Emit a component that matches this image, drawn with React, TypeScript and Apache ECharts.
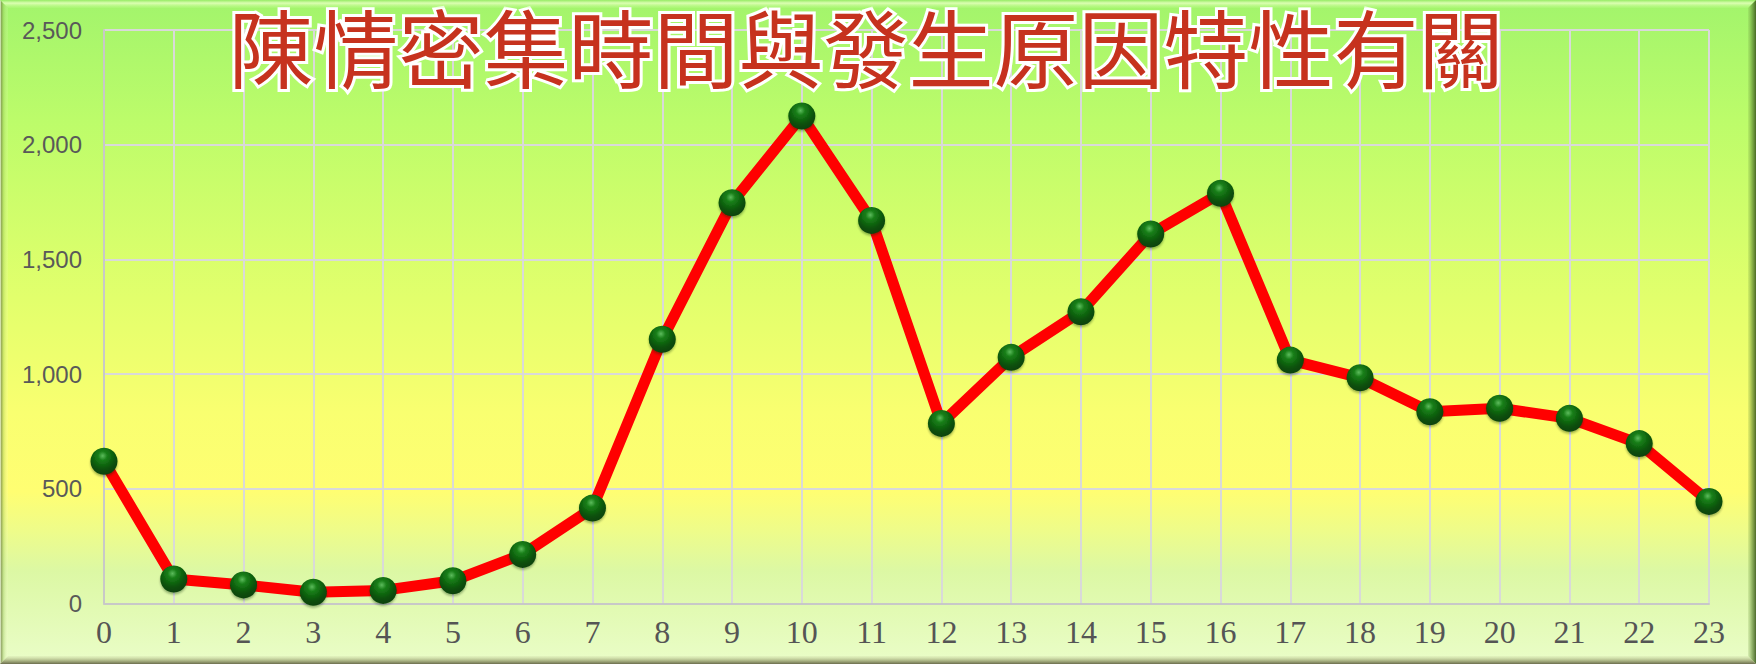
import React, { useEffect, useRef } from "react";
import * as echarts from "echarts";

const hours: string[] = ["0","1","2","3","4","5","6","7","8","9","10","11","12","13","14","15","16","17","18","19","20","21","22","23"];
const counts: number[] = [620, 107, 81, 49, 57, 99, 214, 416, 1152, 1747, 2125, 1670, 785, 1073, 1272, 1611, 1788, 1061, 984, 836, 851, 807, 697, 445];
const titleText = "陳情密集時間與發生原因特性有關";
const yMax = 2500;
const yStep = 500;

const W = 1756;
const H = 664;
const B = 8;

export default function App() {
  const ref = useRef<HTMLDivElement>(null);
  useEffect(() => {
    if (!ref.current) return;
    const chart = echarts.init(ref.current, null, { renderer: "svg" });
    const bg = new echarts.graphic.LinearGradient(0, 0, 0, 1, [
      { offset: 0, color: "#a2f46c" },
      { offset: 0.18, color: "#bcfc6a" },
      { offset: 0.45, color: "#e2ff6c" },
      { offset: 0.62, color: "#f9ff70" },
      { offset: 0.74, color: "#fffe72" },
      { offset: 0.8, color: "#eefc8a" },
      { offset: 0.86, color: "#dcf8a4" },
      { offset: 1, color: "#eafdc8" },
    ]);
    const sphere = {
      type: "radial",
      x: 0.45,
      y: 0.3,
      r: 0.75,
      colorStops: [
        { offset: 0, color: "#5cbc5c" },
        { offset: 0.22, color: "#1a801a" },
        { offset: 0.65, color: "#075207" },
        { offset: 1, color: "#0b3d0b" },
      ],
    };
    const titleFont = "normal 85px 'Noto Sans CJK TC'";
    const titleX = 866;
    const titleY = 44;
    chart.setOption({
      animation: false,
      backgroundColor: bg,
      grid: { left: 104, right: 47, top: 30, bottom: 60.5, containLabel: false, outerBoundsMode: "none" },
      xAxis: {
        type: "category",
        data: hours,
        boundaryGap: false,
        axisLine: { show: true, lineStyle: { color: "#c8c8c8", width: 2 } },
        axisTick: { show: false },
        splitLine: { show: true, lineStyle: { color: "#d9d9d9", width: 2 } },
        axisLabel: {
          color: "#555555",
          fontFamily: "Liberation Serif",
          fontSize: 32,
          margin: 12,
          interval: 0,
        },
      },
      yAxis: {
        type: "value",
        min: 0,
        max: yMax,
        interval: yStep,
        axisLine: { show: true, lineStyle: { color: "#c8c8c8", width: 2 } },
        axisTick: { show: false },
        splitLine: { show: true, lineStyle: { color: "#d9d9d9", width: 2 } },
        axisLabel: {
          color: "#595959",
          fontFamily: "Liberation Sans",
          fontSize: 24,
          margin: 22,
          formatter: (v: number) => v.toLocaleString("en-US"),
        },
      },
      series: [
        {
          type: "line",
          data: counts,
          symbol: "circle",
          symbolSize: 27,
          lineStyle: { color: "#ff0000", width: 11 },
          itemStyle: {
            color: sphere,
            shadowColor: "rgba(0,40,0,0.35)",
            shadowOffsetY: 2,
            shadowBlur: 2,
          },
          z: 3,
        },
      ],
      graphic: [
        {
          type: "text",
          x: titleX,
          y: titleY,
          z: 10,
          silent: true,
          style: {
            text: titleText,
            font: titleFont,
            fill: "#ffffff",
            stroke: "#ffffff",
            lineWidth: 6,
            align: "center",
            verticalAlign: "middle",
            shadowColor: "rgba(230,95,75,0.9)",
            shadowOffsetX: 3,
            shadowOffsetY: 4,
            shadowBlur: 3,
          },
        },
        {
          type: "text",
          x: titleX,
          y: titleY,
          z: 11,
          style: {
            text: titleText,
            font: titleFont,
            fill: "#c6321e",
            align: "center",
            verticalAlign: "middle",
          },
        },
        {
          type: "polygon",
          z: 20,
          shape: { points: [[0, 0], [W, 0], [W - B, B], [B, B]] },
          style: {
            fill: new echarts.graphic.LinearGradient(0, 0, 0, 1, [
              { offset: 0, color: "rgba(150,235,100,1)" },
              { offset: 0.4, color: "rgba(225,255,185,0.9)" },
              { offset: 1, color: "rgba(190,250,140,0.2)" },
            ]),
          },
        },
        {
          type: "polygon",
          z: 20,
          shape: { points: [[0, 0], [B, B], [B, H - B], [0, H]] },
          style: {
            fill: new echarts.graphic.LinearGradient(0, 0, 1, 0, [
              { offset: 0, color: "rgba(245,250,235,0.9)" },
              { offset: 0.2, color: "rgba(120,140,70,0.7)" },
              { offset: 0.45, color: "rgba(150,190,90,0.35)" },
              { offset: 1, color: "rgba(255,255,220,0.1)" },
            ]),
          },
        },
        {
          type: "polygon",
          z: 20,
          shape: { points: [[W, 0], [W, H], [W - B, H - B], [W - B, B]] },
          style: {
            fill: new echarts.graphic.LinearGradient(1, 0, 0, 0, [
              { offset: 0, color: "rgba(60,90,30,0.9)" },
              { offset: 0.5, color: "rgba(90,130,50,0.6)" },
              { offset: 1, color: "rgba(120,160,70,0.15)" },
            ]),
          },
        },
        {
          type: "polygon",
          z: 20,
          shape: { points: [[0, H], [B, H - B], [W - B, H - B], [W, H]] },
          style: {
            fill: new echarts.graphic.LinearGradient(0, 1, 0, 0, [
              { offset: 0, color: "rgba(100,100,70,0.95)" },
              { offset: 0.4, color: "rgba(140,145,100,0.7)" },
              { offset: 1, color: "rgba(200,210,160,0.2)" },
            ]),
          },
        },
      ],
    });
    return () => chart.dispose();
  }, []);
  return (
    <div
      ref={ref}
      style={{ position: "absolute", left: 0, top: 0, width: W, height: H }}
    />
  );
}
